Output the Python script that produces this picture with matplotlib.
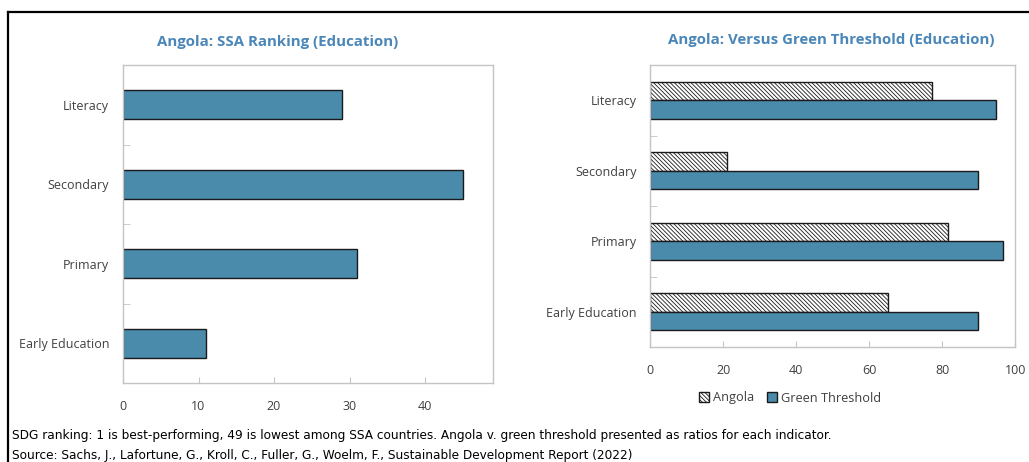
import matplotlib
matplotlib.use('Agg')
import matplotlib.pyplot as plt
from matplotlib.lines import Line2D
from matplotlib.patches import Patch
import numpy as np

plt.rcParams['font.family'] = ['Open Sans', 'DejaVu Sans']
plt.rcParams['hatch.linewidth'] = 0.6

CATEGORIES = ['Literacy', 'Secondary', 'Primary', 'Early Education']
SSA_RANK = [29, 45, 31, 11]
ANGOLA = [77.3, 20.9, 81.5, 65.1]
GREEN_THRESHOLD = [94.8, 89.8, 96.6, 89.9]

BLUE = '#4a8aab'
TITLE_BLUE = '#4a86b8'
SPINE = '#c4c4c4'
TEXT = '#404040'
HATCH = '\\' * 8

fig = plt.figure(figsize=(10.29, 4.62), dpi=100)

# outer frame (left and top edges only, the rest is cut off)
fig.add_artist(Line2D([8 / 1029, 8 / 1029], [0, 1 - 12 / 462], color='black', lw=1.6))
fig.add_artist(Line2D([8 / 1029, 1], [1 - 12 / 462, 1 - 12 / 462], color='black', lw=1.6))


def style_axes(ax, xticks):
    for s in ax.spines.values():
        s.set_color(SPINE)
        s.set_linewidth(1.0)
    ax.set_xticks(xticks)
    ax.tick_params(axis='x', direction='in', length=4, color=SPINE, labelsize=9,
                   labelcolor=TEXT, pad=12)
    ax.tick_params(axis='y', which='major', length=0, labelsize=9, labelcolor=TEXT, pad=10)
    ax.tick_params(axis='y', which='minor', direction='in', length=5, color=SPINE)
    ax.set_yticks(np.arange(len(CATEGORIES)))
    ax.set_yticklabels(CATEGORIES)
    ax.set_yticks(np.arange(len(CATEGORIES) + 1) - 0.5, minor=True)
    ax.set_ylim(len(CATEGORIES) - 0.5, -0.5)


# left: ranking
ax1 = fig.add_axes([123 / 1029, 1 - 383 / 462, 370 / 1029, 318 / 462])
y = np.arange(len(CATEGORIES))
ax1.barh(y, SSA_RANK, height=0.36, color=BLUE, edgecolor='#1a1a1a', linewidth=1.0)
ax1.set_xlim(0, 49)
style_axes(ax1, [0, 10, 20, 30, 40])
fig.text(278 / 1029, 1 - 42 / 462, 'Angola: SSA Ranking (Education)', ha='center', va='center',
         fontsize=10.8, fontweight='bold', color=TITLE_BLUE)

# right: versus green threshold
ax2 = fig.add_axes([650.3 / 1029, 1 - 347 / 462, 365 / 1029, 282 / 462])
h = 0.26
ax2.barh(y - h / 2, ANGOLA, height=h, color='white', edgecolor='#1a1a1a', hatch=HATCH,
         linewidth=1.0)
ax2.barh(y + h / 2, GREEN_THRESHOLD, height=h, color=BLUE, edgecolor='#1a1a1a', linewidth=1.0)
ax2.set_xlim(0, 100)
style_axes(ax2, [0, 20, 40, 60, 80, 100])
fig.text(831 / 1029, 1 - 40 / 462, 'Angola: Versus Green Threshold (Education)', ha='center',
         va='center', fontsize=10.8, fontweight='bold', color=TITLE_BLUE)

handles = [Patch(facecolor='white', edgecolor='#1a1a1a', hatch=HATCH, label='Angola'),
           Patch(facecolor=BLUE, edgecolor='#1a1a1a', label='Green Threshold')]
fig.legend(handles=handles, loc='center', bbox_to_anchor=(790 / 1029, 1 - 398 / 462), ncol=2,
           frameon=False, fontsize=9.2, handlelength=0.8, handleheight=0.8, handletextpad=0.3,
           columnspacing=1.0, labelcolor=TEXT)

note_font = ['DejaVu Sans']
fig.text(12 / 1029, 1 - 435 / 462,
         'SDG ranking: 1 is best-performing, 49 is lowest among SSA countries. '
         'Angola v. green threshold presented as ratios for each indicator.',
         ha='left', va='center', fontsize=8.7, family=note_font, color='black')
fig.text(12 / 1029, 1 - 456 / 462,
         'Source: Sachs, J., Lafortune, G., Kroll, C., Fuller, G., Woelm, F., '
         'Sustainable Development Report (2022)',
         ha='left', va='center', fontsize=8.7, family=note_font, color='black')

fig.savefig('out.png', dpi=100)
